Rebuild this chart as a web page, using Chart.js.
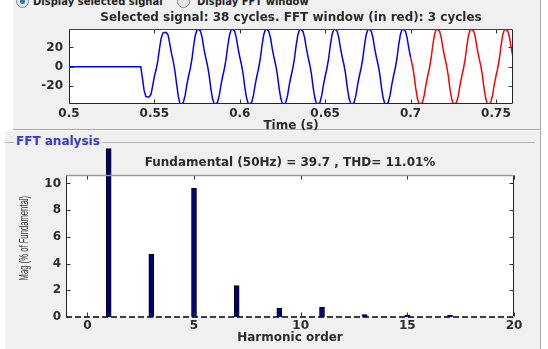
<!DOCTYPE html>
<html>
<head>
<meta charset="utf-8">
<script src="https://cdn.jsdelivr.net/npm/chart.js@4.4.1/dist/chart.umd.min.js"></script>
<style>
  body { margin: 0; width: 548px; height: 349px; overflow: hidden; position: relative; background: #fff; font-family: "DejaVu Sans", sans-serif; }
  .panel { position: absolute; background: #f0f0f0; }
  #topPanel { left: 13px; top: -1px; width: 527px; height: 130px; border-right: 1px solid #a9a9a9; border-bottom: 1px solid #a9a9a9; }
  #fftPanel { left: 5px; top: 131px; width: 535px; height: 220px; border-right: 1px solid #a9a9a9; }
  #groupLine { position: absolute; left: 5px; top: 142px; width: 530px; border-top: 1px solid #b4b4b4; }
  #groupLabel { position: absolute; left: 14px; top: 134px; padding: 0 2px; background: #f0f0f0; color: #3c3cc8; font-weight: bold; font-size: 12px; }
  .radio { position: absolute; top: -5px; width: 11px; height: 11px; border-radius: 50%; border: 1px solid #8a8a8a; background: #e6e6e6; }
  .radio.on::after { content: ""; position: absolute; left: 3px; top: 3px; width: 5px; height: 5px; border-radius: 50%; background: #3a6fb0; }
  .rlabel { position: absolute; top: -4px; font-size: 10px; font-weight: bold; color: #222; white-space: nowrap; }
  canvas { position: absolute; left: 0; }
</style>
</head>
<body>
<div class="panel" id="topPanel"></div>
<div class="panel" id="fftPanel"></div>
<div id="groupLine"></div>
<div id="groupLabel">FFT analysis</div>
<div class="radio on" style="left:16px"></div>
<div class="rlabel" style="left:33px">Display selected signal</div>
<div class="radio" style="left:177px"></div>
<div class="rlabel" style="left:197px">Display FFT window</div>
<canvas id="signalChart" width="548" height="135" style="top:0"></canvas>
<canvas id="fftChart" width="548" height="209" style="top:140px"></canvas>
<script>
// selected signal (time in s, value in the signal's units)
const preTriggerTime = [0.5, 0.542];
const preTriggerValue = [0, 0];
const signalStart = 0.542;
const sampleStep = 0.001;
const fftWindowStart = 0.7;
const signalValues = [
  0, -12, -25, -31, -31.5, -31.5, -29, -20, -10, -3, 6, 19, 30, 35, 35.6, 35.6, 33, 24, 14, 6,
  -4, -18, -31, -38.8, -38.8, -37, -30, -19, -10, -2, 8, 22, 33,
  38.7, 38.8, 37, 30, 19, 10, 2, -8, -22, -33, -38.7, -38.9, -37, -30, -19, -10, -2, 8, 22, 33,
  38.8, 38.7, 37, 30, 19, 10, 2, -8, -22, -33, -38.8, -38.8, -37, -30, -19, -10, -2, 8, 22, 33,
  38.8, 38.8, 36.8, 30, 19, 10, 2, -8, -22, -33, -38.9, -38.8, -37, -30, -19, -10, -2, 8, 22, 33,
  38.7, 38.8, 37, 30, 19, 10, 2, -8, -22, -33, -38.8, -38.8, -37, -30, -19, -10, -2, 8, 22, 33,
  38.8, 38.8, 37, 30, 19, 10, 2, -8, -22, -33, -38.8, -38.9, -37, -30, -19, -10, -2, 8, 22, 33,
  38.8, 38.7, 37, 30, 19, 10, 2, -8, -22, -33, -38.8, -38.8, -37, -30, -19, -10, -2, 8, 22, 33,
  38.8, 38.8, 37, 30, 19, 10, 2, -8, -22, -33, -38.8, -38.8, -37, -30, -19, -10, -2, 8, 22, 33,
  38.8, 38.8, 37, 30, 19, 10, 2, -8, -22, -33, -38.9, -38.8, -37, -30, -19, -10, -2, 8, 22, 33,
  38.7, 38.8, 37, 30, 19, 10, 2, -8, -22, -33, -38.8, -38.8, -37, -30, -19, -10, -2, 8, 22, 33,
  38.8, 38.8, 37, 30, 19, 10
];
const timeTicks = [0.5, 0.55, 0.6, 0.65, 0.7, 0.75];
const signalTicks = [-20, 0, 20];

// FFT result (% of fundamental)
const harmonicOrder = [0, 1, 2, 3, 4, 5, 6, 7, 8, 9, 10, 11, 12, 13, 14, 15, 16, 17, 18, 19, 20];
const harmonicMag = [0, 100, 0, 4.7, 0, 9.65, 0, 2.35, 0, 0.67, 0, 0.75, 0, 0.18, 0, 0.15, 0, 0.12, 0, 0, 0];
const harmonicTicks = [0, 5, 10, 15, 20];
const magTicks = [0, 2, 4, 6, 8, 10];
const baselineOrder = [-1, 20];
const magLabel = 'Mag (% of Fundamental)';

const textColor = '#2b2b2b';
const boldFont = { family: 'DejaVu Sans', size: 12, weight: 'bold' };
const plainLabel = v => String(v);

// white plot area, box and inward tick marks like the original
const axesFrame = {
  id: 'axesFrame',
  beforeDatasetsDraw(chart) {
    const { ctx, chartArea: a } = chart;
    ctx.save();
    ctx.fillStyle = '#fff';
    ctx.fillRect(a.left, a.top, a.right - a.left, a.bottom - a.top);
    ctx.restore();
  },
  afterDatasetsDraw(chart, args, opts) {
    const { ctx, chartArea: a, scales } = chart;
    const L = Math.round(a.left) + 0.5, R = Math.round(a.right) - 0.5;
    const T = Math.round(a.top) + 0.5, B = Math.round(a.bottom) - 0.5;
    ctx.save();
    ctx.lineWidth = 1;
    ctx.strokeStyle = '#333';
    ctx.beginPath();
    scales.x.ticks.forEach(t => {
      const px = Math.round(scales.x.getPixelForValue(t.value)) + 0.5;
      ctx.moveTo(px, T); ctx.lineTo(px, T + 4);
      ctx.moveTo(px, B); ctx.lineTo(px, B - 4);
    });
    scales.y.ticks.forEach(t => {
      const py = Math.round(scales.y.getPixelForValue(t.value)) + 0.5;
      ctx.moveTo(L, py); ctx.lineTo(L + 4, py);
      ctx.moveTo(R, py); ctx.lineTo(R - 4, py);
    });
    ctx.stroke();

    ctx.strokeStyle = '#262626';
    ctx.beginPath();
    ctx.moveTo(L, T); ctx.lineTo(L, B);
    ctx.moveTo(R, T); ctx.lineTo(R, B);
    if (opts.bottom) { ctx.moveTo(L, B); ctx.lineTo(R, B); }
    ctx.stroke();
    ctx.strokeStyle = opts.topColor;
    ctx.lineWidth = opts.topWidth;
    ctx.beginPath();
    ctx.moveTo(L, T); ctx.lineTo(R, T);
    ctx.stroke();

    // condensed rotated y label (the original uses a narrow font)
    if (opts.yLabel) {
      ctx.translate(opts.yLabelX, (a.top + a.bottom) / 2 - 8);
      ctx.rotate(-Math.PI / 2);
      ctx.scale(0.64, 1);
      ctx.font = '12px "Liberation Sans", Arial, sans-serif';
      ctx.fillStyle = '#333';
      ctx.textAlign = 'center';
      ctx.textBaseline = 'middle';
      ctx.fillText(opts.yLabel, 0, 0);
    }
    ctx.restore();
  }
};

const signalTime = signalValues.map((v, i) => +(signalStart + i * sampleStep).toFixed(3));
const bluePoints = preTriggerTime.map((t, i) => ({ x: t, y: preTriggerValue[i] }))
  .concat(signalValues.map((v, i) => ({ x: signalTime[i], y: v })).filter(p => p.x <= fftWindowStart));
const redPoints = signalValues.map((v, i) => ({ x: signalTime[i], y: v })).filter(p => p.x >= fftWindowStart);

new Chart(document.getElementById('signalChart'), {
  type: 'line',
  data: {
    datasets: [
      { data: bluePoints, borderColor: '#0000ff', borderWidth: 1.5, pointRadius: 0, tension: 0 },
      { data: redPoints, borderColor: '#ff0000', borderWidth: 1.5, pointRadius: 0, tension: 0 }
    ]
  },
  options: {
    responsive: false,
    animation: false,
    devicePixelRatio: 1,
    events: [],
    layout: { padding: { left: 0, right: 35, top: 0, bottom: 0 } },
    plugins: {
      legend: { display: false },
      tooltip: { enabled: false },
      title: {
        display: true, fullSize: false,
        text: 'Selected signal: 38 cycles. FFT window (in red): 3 cycles',
        color: textColor, font: boldFont, padding: { top: 11, bottom: 4 }
      },
      axesFrame: { bottom: true, topColor: '#444', topWidth: 1 }
    },
    scales: {
      x: {
        type: 'linear', min: 0.5, max: 0.76,
        afterFit: s => { s.height = 31; },
        afterBuildTicks: s => { s.ticks = timeTicks.map(v => ({ value: v })); },
        grid: { display: false, drawTicks: false }, border: { display: false },
        ticks: { padding: 3, color: textColor, font: boldFont, maxRotation: 0, autoSkip: false, callback: plainLabel },
        title: { display: true, text: 'Time (s)', color: textColor, font: boldFont, padding: { top: 0, bottom: 2 } }
      },
      y: {
        min: -38.9, max: 38.8,
        afterFit: s => { s.width = 69; },
        afterBuildTicks: s => { s.ticks = signalTicks.map(v => ({ value: v })); },
        grid: { display: false, drawTicks: false }, border: { display: false },
        ticks: { padding: 6, color: textColor, font: boldFont, callback: plainLabel }
      }
    }
  },
  plugins: [axesFrame]
});

new Chart(document.getElementById('fftChart'), {
  type: 'bar',
  data: {
    datasets: [
      {
        type: 'bar', order: 0,
        data: harmonicOrder.map((h, i) => ({ x: h, y: harmonicMag[i] })),
        backgroundColor: '#00007a', borderColor: '#000', borderWidth: 1, barThickness: 5,
        clip: { left: 0, top: 27, right: 0, bottom: 0 }
      },
      {
        type: 'line', order: 1,
        data: baselineOrder.map(h => ({ x: h, y: 0 })),
        borderColor: '#000', borderWidth: 1.5, borderDash: [6, 3], pointRadius: 0, clip: false
      }
    ]
  },
  options: {
    responsive: false,
    animation: false,
    devicePixelRatio: 1,
    events: [],
    layout: { padding: { left: 0, right: 34, top: 0, bottom: 0 } },
    plugins: {
      legend: { display: false },
      tooltip: { enabled: false },
      title: {
        display: true, fullSize: false,
        text: 'Fundamental (50Hz) = 39.7 , THD= 11.01%',
        color: textColor, font: boldFont, padding: { top: 16, bottom: 5 }
      },
      axesFrame: { bottom: false, topColor: '#999', topWidth: 1.5, yLabel: magLabel, yLabelX: 25 }
    },
    scales: {
      x: {
        type: 'linear', min: -1, max: 20, offset: false,
        afterFit: s => { s.height = 32; },
        afterBuildTicks: s => { s.ticks = harmonicTicks.map(v => ({ value: v })); },
        grid: { display: false, drawTicks: false, offset: false }, border: { display: false },
        ticks: { padding: 2, color: textColor, font: boldFont, maxRotation: 0, autoSkip: false, callback: plainLabel },
        title: { display: true, text: 'Harmonic order', color: textColor, font: boldFont, padding: { top: 0, bottom: 4 } }
      },
      y: {
        min: 0, max: 10.6,
        afterFit: s => { s.width = 66; },
        afterBuildTicks: s => { s.ticks = magTicks.map(v => ({ value: v })); },
        grid: { display: false, drawTicks: false }, border: { display: false },
        ticks: { padding: 5, color: textColor, font: boldFont, callback: plainLabel }
      }
    }
  },
  plugins: [axesFrame]
});
</script>
</body>
</html>
